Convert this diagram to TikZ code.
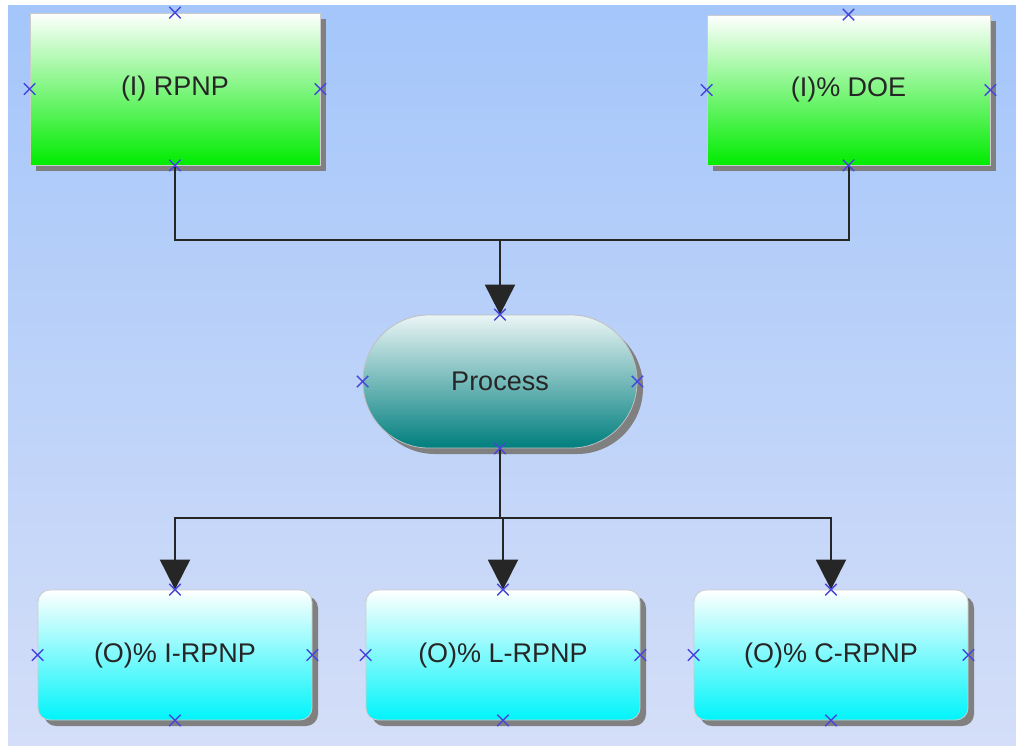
\documentclass[tikz,border=0pt]{standalone}
\usepackage{fontspec}
\setmainfont{Liberation Sans}
\usetikzlibrary{arrows.meta,shadows,shapes.misc}

\definecolor{bgtop}{RGB}{164,198,250}
\definecolor{bgbot}{RGB}{212,222,248}
\definecolor{ingreen}{RGB}{0,236,0}
\definecolor{procteal}{RGB}{0,126,126}
\definecolor{outcyan}{RGB}{0,244,250}
\definecolor{markblue}{RGB}{70,70,220}

\begin{document}
\begin{tikzpicture}[x=0.5pt, y=-0.5pt,
                    shadow_style/.style={drop shadow={shadow xshift=3pt, shadow yshift=-3pt, fill=gray, opacity=1}},
                    in_style/.style={rectangle, draw=gray!40, shadow_style, top color=white, bottom color=ingreen,
                                     minimum width=145pt, minimum height=76pt, text=black!85,
                                     font=\fontsize{13.5}{16}\selectfont},
                    proc_style/.style={rectangle, rounded corners=33pt, draw=gray!50, shadow_style,
                                       top color=white!92!teal, bottom color=procteal,
                                       minimum width=137pt, minimum height=66.5pt, text=black!85,
                                       font=\fontsize{13.5}{16}\selectfont},
                    out_style/.style={rectangle, rounded corners=6pt, draw=gray!40, shadow_style,
                                      top color=white, bottom color=outcyan,
                                      minimum width=137pt, minimum height=65pt, text=black!85,
                                      font=\fontsize{13.5}{16}\selectfont},
                    edge_style/.style={draw=black!85, line width=1pt},
                    flow/.style={edge_style, -{Triangle[width=15pt, length=15pt]}},
                    xmark/.style={cross out, draw=markblue, line width=0.7pt, minimum size=5pt, inner sep=0pt}
   ]
   \useasboundingbox (0,0) rectangle (1016,745);
   \shade[top color=bgtop, bottom color=bgbot] (8,5) rectangle (1016,745);

   % Inputs
   \node[in_style] (rpnp) at (175,89) {(I) RPNP};
   \node[in_style, minimum width=141.5pt, minimum height=75pt] (doe) at (848.5,90) {(I)\% DOE};
   % Process
   \node[proc_style] (proc) at (500,381.5) {Process};
   % Outputs
   \node[out_style] (irpnp) at (175,655) {(O)\% I-RPNP};
   \node[out_style] (lrpnp) at (503,655) {(O)\% L-RPNP};
   \node[out_style] (crpnp) at (831,655) {(O)\% C-RPNP};

   \coordinate (merge) at (500,240);
   \coordinate (split) at (500,518);

   \draw[edge_style] (rpnp.south) |- (merge) -| (doe.south);
   \draw[flow] (merge) -- (proc.north);
   \draw[edge_style] (proc.south) -- (split);
   \draw[flow] (split) -| (irpnp.north);
   \draw[flow] (split) -| (lrpnp.north);
   \draw[flow] (split) -| (crpnp.north);

   % connection points
   \foreach \n in {rpnp,doe,proc,irpnp,lrpnp,crpnp}
     \foreach \a in {north,south,east,west}
       \node[xmark] at (\n.\a) {};
\end{tikzpicture}
\end{document}
